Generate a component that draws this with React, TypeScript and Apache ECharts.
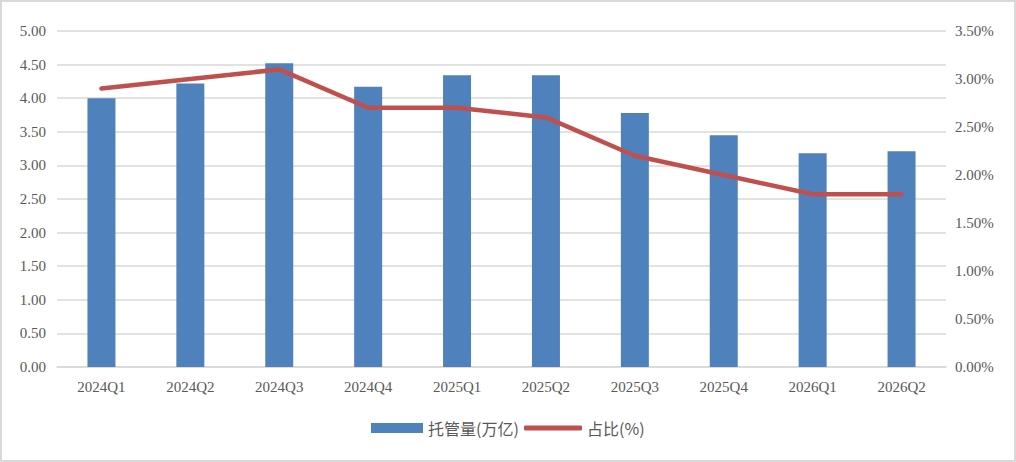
import React, { useEffect, useRef } from "react";
import * as echarts from "echarts";

const categories = ["2024Q1", "2024Q2", "2024Q3", "2024Q4", "2025Q1", "2025Q2", "2025Q3", "2025Q4", "2026Q1", "2026Q2"];
const custodyValues = [4.0, 4.22, 4.52, 4.17, 4.34, 4.34, 3.78, 3.45, 3.18, 3.21];
const shareValues = [2.9, 3.0, 3.1, 2.7, 2.7, 2.6, 2.2, 2.0, 1.8, 1.8];
const barName = "托管量(万亿)";
const lineName = "占比(%)";

export default function App() {
  const ref = useRef<HTMLDivElement>(null);
  useEffect(() => {
    if (!ref.current) return;
    const chart = echarts.init(ref.current, null, { renderer: "svg" });
    const labelFont = { color: "#595959", fontFamily: "Liberation Serif", fontSize: 15 };
    const legendFont = { color: "#595959", fontFamily: "Noto Sans CJK SC", fontSize: 16 };
    chart.setOption({
      animation: false,
      backgroundColor: "#ffffff",
      grid: { left: 57, right: 70, top: 31, bottom: 95, containLabel: false },
      legend: [
        {
          data: [barName],
          left: 371,
          top: 420,
          padding: 0,
          icon: "rect",
          itemWidth: 52,
          itemHeight: 10,
          textStyle: legendFont,
        },
        {
          data: [lineName],
          left: 524,
          top: 420,
          padding: 0,
          icon: "roundRect",
          itemWidth: 58,
          itemHeight: 5,
          textStyle: legendFont,
        },
      ],
      xAxis: {
        type: "category",
        data: categories,
        axisLine: { lineStyle: { color: "#d9d9d9", width: 1.5 } },
        axisTick: { show: false },
        axisLabel: { ...labelFont, margin: 12 },
      },
      yAxis: [
        {
          type: "value",
          min: 0,
          max: 5,
          interval: 0.5,
          axisLine: { show: false },
          axisTick: { show: false },
          splitLine: { lineStyle: { color: "#d9d9d9", width: 1.5 } },
          axisLabel: { ...labelFont, margin: 11, formatter: (v: number) => v.toFixed(2) },
        },
        {
          type: "value",
          min: 0,
          max: 3.5,
          interval: 0.5,
          position: "right",
          axisLine: { show: false },
          axisTick: { show: false },
          splitLine: { show: false },
          axisLabel: { ...labelFont, margin: 9, formatter: (v: number) => v.toFixed(2) + "%" },
        },
      ],
      series: [
        {
          name: barName,
          type: "bar",
          data: custodyValues,
          barWidth: 28,
          itemStyle: { color: "#4F81BD" },
        },
        {
          name: lineName,
          type: "line",
          yAxisIndex: 1,
          data: shareValues,
          symbol: "none",
          lineStyle: { color: "#C0504D", width: 4.5, cap: "round", join: "round" },
          itemStyle: { color: "#C0504D" },
        },
      ],
    });
    return () => chart.dispose();
  }, []);
  return (
    <div style={{ position: "fixed", left: 0, top: 0, width: 1016, height: 462, background: "#fff" }}>
      <div ref={ref} style={{ position: "absolute", left: 0, top: 0, width: 1016, height: 462 }} />
      <div
        style={{
          position: "absolute",
          left: 0,
          top: 0,
          width: 1016,
          height: 462,
          boxSizing: "border-box",
          border: "2px solid #d9d9d9",
          pointerEvents: "none",
        }}
      />
    </div>
  );
}
